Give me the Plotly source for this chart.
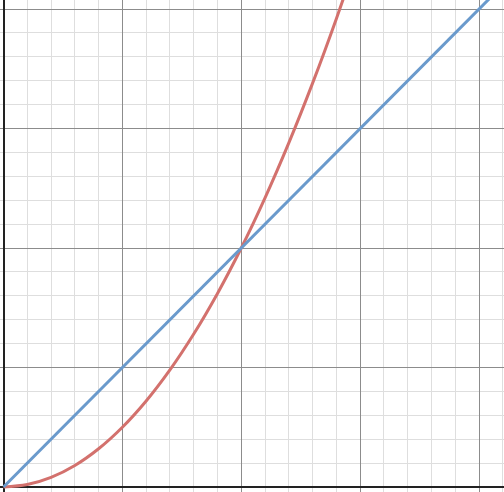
import plotly.graph_objects as go

# Values
red_x = [0.0, 0.1, 0.2, 0.3, 0.4, 0.5, 0.6, 0.7, 0.8, 0.9, 1.0, 1.1, 1.2, 1.3, 1.4, 1.5]
red_y = [0.0, 0.01, 0.04, 0.09, 0.16, 0.25, 0.36, 0.49, 0.64, 0.81, 1.0, 1.21, 1.44, 1.69, 1.96, 2.25]
blue_x = [0.0, 2.2]
blue_y = [0.0, 2.2]

fig = go.Figure()
fig.add_trace(go.Scatter(x=red_x, y=red_y, mode="lines", line=dict(color="#d3716d", width=3, shape="spline"),
                         hoverinfo="skip", showlegend=False))
fig.add_trace(go.Scatter(x=blue_x, y=blue_y, mode="lines", line=dict(color="#6a9acc", width=3),
                         hoverinfo="skip", showlegend=False))

axis_common = dict(
    showticklabels=False, ticks="", showline=False,
    dtick=0.5, tick0=0, showgrid=True, gridcolor="#8c8c8c", gridwidth=1,
    minor=dict(dtick=0.1, tick0=0, showgrid=True, gridcolor="#dedede", gridwidth=1),
    zeroline=True, zerolinecolor="#222222", zerolinewidth=2,
)
fig.update_xaxes(range=[-0.0147, 2.105], **axis_common)
fig.update_yaxes(range=[-0.021, 2.038], **axis_common)
fig.update_layout(width=504, height=492, margin=dict(l=0, r=0, t=0, b=0),
                  plot_bgcolor="white", paper_bgcolor="white")
fig.write_html("out.html", config={"displayModeBar": False},
               post_script="document.body.style.margin='0';document.body.style.overflow='hidden';")
